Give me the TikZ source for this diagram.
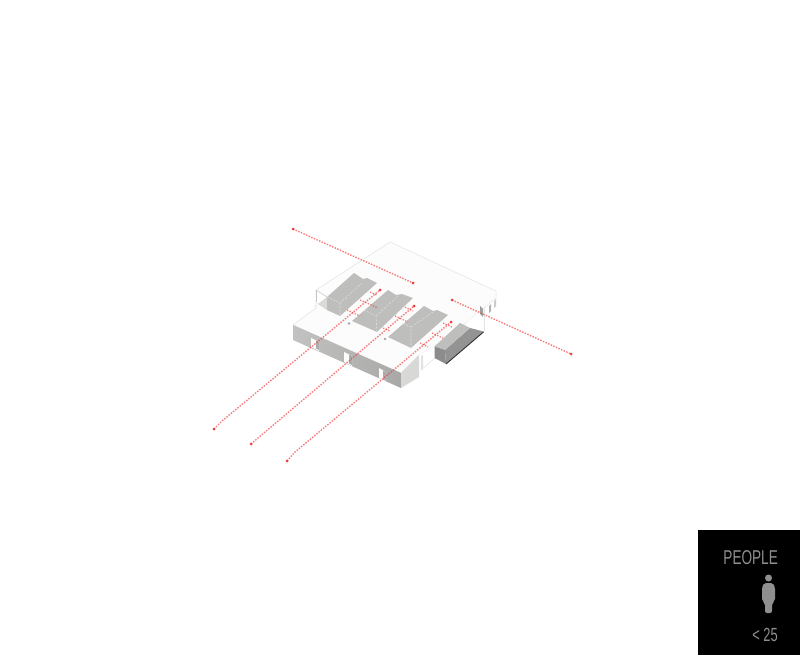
\documentclass[tikz,border=0pt]{standalone}
\usepackage{fontspec}
\setmainfont{Liberation Sans}
\definecolor{slabtop}{HTML}{FBFCFB}
\definecolor{edgeg}{HTML}{E2E4E2}
\definecolor{blockg}{HTML}{BEBFBD}
\definecolor{faceg}{HTML}{A8A9A7}
\definecolor{sideg}{HTML}{DADBD9}
\definecolor{redd}{HTML}{F43A3A}
\definecolor{legendg}{HTML}{8F8F8F}
\tikzset{
 route/.style={draw=redd,line width=1.4pt,dash pattern=on 1.5pt off 1.35pt,opacity=.65},
 tick/.style={draw=redd,line width=1.2pt,dash pattern=on 1.4pt off 1.4pt,opacity=.65},
 endp/.style={fill=redd},
 ghost/.style={draw=white,line width=0.6pt,dash pattern=on 2pt off 1.5pt,opacity=.5},
 legend/.style={text=legendg,inner sep=0pt,anchor=east}
}
\begin{document}
\begin{tikzpicture}[x=1pt,y=-1pt]
\useasboundingbox (0,0) rectangle (800,655);
\fill[white] (0,0) rectangle (800,655);
% slab top
\fill[slabtop,draw=edgeg,line width=.5pt] (390,242) -- (496,291) -- (496,298) -- (484,308) -- (467,322) -- (435,346) -- (419,355) -- (401,373) -- (293,325) -- (316,308) -- (316,290) -- cycle;
% upper-left recess
\fill[white,draw=edgeg,line width=.4pt] (316,290) -- (316,302) -- (327,310) -- (327,297) -- cycle;
\fill[sideg] (318,304) -- (327,297) -- (327,310) -- cycle;
\draw[gray!45,line width=.5pt] (316,290) -- (316,302);
\draw[gray!45,line width=.4pt] (316,290) -- (327,297);
% front faces of lower slab
\shade[left color=faceg!70!white,right color=faceg] (293,325) -- (401,373) -- (401,388) -- (293,340) -- cycle;
\fill[faceg!45!white] (401,373) -- (419,355) -- (419,377) -- (401,388) -- cycle;
% door openings
\fill[slabtop] (311,338) -- (319,342) -- (319,351) -- (311,347) -- cycle;
\fill[slabtop] (344,352) -- (352,356) -- (352,366) -- (344,362) -- cycle;
\fill[slabtop] (379,368) -- (386,372) -- (386,382) -- (379,378) -- cycle;
\fill[gray!65] (316,340.5) -- (319,342) -- (319,350) -- (316,348.5) -- cycle;
\fill[gray!65] (349,354.5) -- (352,356) -- (352,365) -- (349,363.5) -- cycle;
\fill[gray!65] (383,370.5) -- (386,372) -- (386,381) -- (383,379.5) -- cycle;
% right recess and side walls
\fill[white] (419,355) -- (435,346) -- (435,358) -- (421,370) -- cycle;
\fill[sideg!80!white] (421,356) -- (423,355) -- (423,369) -- (421,370) -- cycle;
\draw[edgeg,line width=.5pt] (421,356) -- (421,370) -- (435,358);
% white wall behind dark box
\fill[white] (467,322) -- (484,308) -- (484,331) -- (470,329) -- cycle;
\draw[edgeg,line width=.5pt] (484,308) -- (484,331);
% dark box
\fill[gray!85] (445,350) -- (470,328) -- (483.5,331.5) -- (446,364) -- cycle;
\fill[gray!115!black] (446,364) -- (455,356) -- (477,334) -- (483.5,331.5) -- cycle;
\fill[blockg] (434.5,346.5) -- (460,323) -- (470,328) -- (445,350) -- cycle;
\fill[gray!90] (434.5,346.5) -- (445,350) -- (446,364) -- (434.5,358) -- cycle;
\draw[black!80,line width=.9pt] (446,364) -- (483.5,332);
\foreach \i in {0,...,5} \draw[gray!120!black,line width=.5pt] (449+4.5*\i,347-3.6*\i) -- (452+4.5*\i,353-3.8*\i);
% gray blocks
\fill[blockg] (354,273) -- (363,279) -- (367,278) -- (377,283) -- (340,316) -- (327,310) -- (327,297) -- cycle;
\fill[blockg] (388,290) -- (396,295) -- (402,294) -- (413,298) -- (377,332) -- (352,321) -- cycle;
\fill[blockg] (424,306) -- (433,311) -- (437,310) -- (448,315) -- (411,348) -- (388,337) -- cycle;
% pale dashed marks on blocks
\draw[ghost] (327,297) -- (340,303) -- (340,316);
\draw[ghost] (340,303) -- (362,283);
\draw[ghost] (376,316) -- (377,332);
\draw[ghost] (364,310) -- (376,316) -- (398,296);
\draw[ghost] (400,322) -- (411,327) -- (411,348);
\draw[ghost] (411,327) -- (433,312);
% end wall notches
\fill[gray!60] (489,306) -- (491,304) -- (491,311) -- (489,313) -- cycle;
\fill[gray!75] (480,306) -- (483,309) -- (483,317) -- (480,314) -- cycle;
\fill[gray!40] (494,301) -- (496,299) -- (496,306) -- (494,308) -- cycle;
% small posts
\fill[gray!70] (349,323.5) circle (1.3);
\fill[gray!70] (385,339) circle (1.3);
\fill[gray!70] (315,306) circle (.5);
% routes
\coordinate (a1) at (293,229); \coordinate (a2) at (413,283);
\coordinate (b1) at (452,300); \coordinate (b2) at (571,354);
\coordinate (c1) at (214,429); \coordinate (c2) at (380,290);
\coordinate (d1) at (251,444); \coordinate (d2) at (414,306);
\coordinate (e1) at (287,461); \coordinate (e2) at (451,322);
\draw[route] (a1) -- (a2);
\draw[route] (b1) -- (b2);
\draw[route] (c1) -- (222,421) -- (c2);
\draw[route] (d1) -- (258,438) -- (d2);
\draw[route] (e1) -- (295,452) -- (e2);
\draw[tick] (347,310) -- (360,316);
\draw[tick] (360,300) -- (378,308);
\draw[tick] (370,292) -- (377,295);
\draw[tick] (395,316) -- (408,322);
\draw[tick] (405,307) -- (413,311);
\draw[tick] (383,328) -- (390,331);
\draw[tick] (420,343) -- (428,347);
\draw[tick] (432,333) -- (443,338);
\draw[tick] (443,323) -- (452,327);
\foreach \p in {a1,a2,b1,b2,c1,c2,d1,d2,e1,e2} \fill[endp] (\p) circle (1.5);
% legend
\fill[black] (698,530) rectangle (800,655);
\node[legend,font=\fontsize{20}{20}\selectfont,xscale=.68,yscale=1] (people) at (778,558) {PEOPLE};
\node[legend,font=\fontsize{19}{19}\selectfont,xscale=.68] (count) at (778,635) {< 25};
\fill[legendg] (768.5,578) circle (3.5);
\fill[legendg,rounded corners=2pt] (764,583) -- (773,583) -- (775,587) -- (775,601) -- (772,603) -- (772,613) -- (765,613) -- (765,603) -- (762,601) -- (762,587) -- cycle;
\end{tikzpicture}
\end{document}
